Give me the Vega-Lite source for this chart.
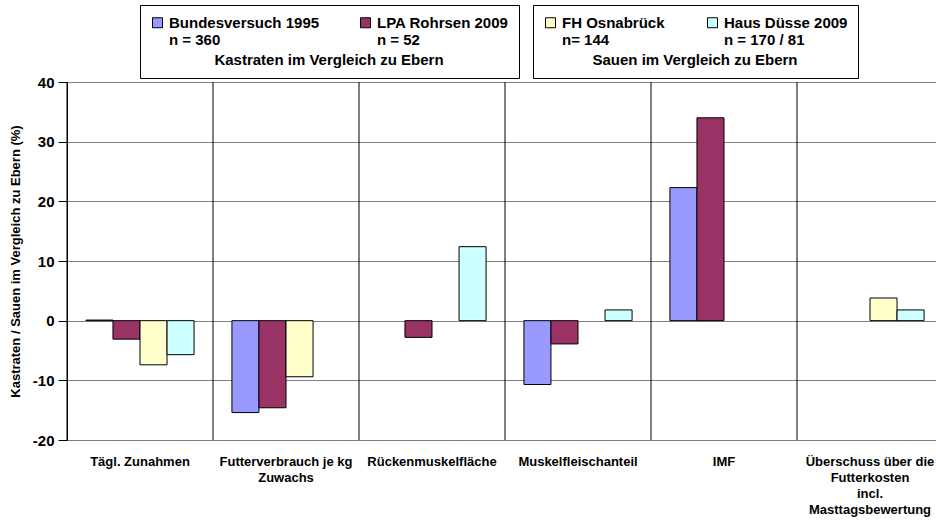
{
  "$schema": "https://vega.github.io/schema/vega-lite/v6.json",
  "width": 869,
  "height": 358,
  "autosize": "none",
  "padding": {"left": 67, "top": 82, "right": 0, "bottom": 83},
  "background": "white",
  "config": {
    "font": "Liberation Sans",
    "view": {"stroke": null},
    "axis": {"labelFont": "Liberation Sans", "titleFont": "Liberation Sans", "labelColor": "black", "titleColor": "black"},
    "legend": {"labelFont": "Liberation Sans", "titleFont": "Liberation Sans"}
  },
  "datasets": {
    "bars": [
      {"kategorie": "Tägl. Zunahmen", "serie": "Bundesversuch 1995", "gruppe": "K", "wert": 0.1},
      {"kategorie": "Tägl. Zunahmen", "serie": "LPA Rohrsen 2009", "gruppe": "K", "wert": -3.1},
      {"kategorie": "Tägl. Zunahmen", "serie": "FH Osnabrück", "gruppe": "S", "wert": -7.4},
      {"kategorie": "Tägl. Zunahmen", "serie": "Haus Düsse 2009", "gruppe": "S", "wert": -5.7},
      {"kategorie": "Futterverbrauch je kg Zuwachs", "serie": "Bundesversuch 1995", "gruppe": "K", "wert": -15.4},
      {"kategorie": "Futterverbrauch je kg Zuwachs", "serie": "LPA Rohrsen 2009", "gruppe": "K", "wert": -14.6},
      {"kategorie": "Futterverbrauch je kg Zuwachs", "serie": "FH Osnabrück", "gruppe": "S", "wert": -9.4},
      {"kategorie": "Rückenmuskelfläche", "serie": "LPA Rohrsen 2009", "gruppe": "K", "wert": -2.8},
      {"kategorie": "Rückenmuskelfläche", "serie": "Haus Düsse 2009", "gruppe": "S", "wert": 12.4},
      {"kategorie": "Muskelfleischanteil", "serie": "Bundesversuch 1995", "gruppe": "K", "wert": -10.7},
      {"kategorie": "Muskelfleischanteil", "serie": "LPA Rohrsen 2009", "gruppe": "K", "wert": -3.9},
      {"kategorie": "Muskelfleischanteil", "serie": "Haus Düsse 2009", "gruppe": "S", "wert": 1.8},
      {"kategorie": "IMF", "serie": "Bundesversuch 1995", "gruppe": "K", "wert": 22.3},
      {"kategorie": "IMF", "serie": "LPA Rohrsen 2009", "gruppe": "K", "wert": 34.0},
      {"kategorie": "Überschuss über die Futterkosten incl. Masttagsbewertung", "serie": "FH Osnabrück", "gruppe": "S", "wert": 3.8},
      {"kategorie": "Überschuss über die Futterkosten incl. Masttagsbewertung", "serie": "Haus Düsse 2009", "gruppe": "S", "wert": 1.8}
    ],
    "kats": [
      {"kategorie": "Tägl. Zunahmen"},
      {"kategorie": "Futterverbrauch je kg Zuwachs"},
      {"kategorie": "Rückenmuskelfläche"},
      {"kategorie": "Muskelfleischanteil"},
      {"kategorie": "IMF"},
      {"kategorie": "Überschuss über die Futterkosten incl. Masttagsbewertung"}
    ]
  },
  "encoding": {
    "x": {
      "field": "kategorie",
      "type": "nominal",
      "scale": {
        "domain": ["Tägl. Zunahmen", "Futterverbrauch je kg Zuwachs", "Rückenmuskelfläche", "Muskelfleischanteil", "IMF", "Überschuss über die Futterkosten incl. Masttagsbewertung"],
        "range": [0, 876],
        "paddingInner": 0,
        "paddingOuter": 0
      },
      "axis": {
        "title": null,
        "labelAngle": 0,
        "ticks": false,
        "grid": false,
        "domainColor": "#808080",
        "labelFontSize": 13,
        "labelFontWeight": "bold",
        "labelPadding": 15,
        "labelBaseline": "top",
        "labelLineHeight": 16,
        "labelLimit": 0,
        "labelExpr": "datum.label == 'Futterverbrauch je kg Zuwachs' ? ['Futterverbrauch je kg', 'Zuwachs'] : datum.label == 'Überschuss über die Futterkosten incl. Masttagsbewertung' ? ['Überschuss über die', 'Futterkosten', 'incl.', 'Masttagsbewertung'] : datum.label"
      }
    }
  },
  "layer": [
    {
      "data": {"name": "kats"},
      "mark": {"type": "rule", "color": "black", "strokeWidth": 1},
      "encoding": {
        "x": {"field": "kategorie", "type": "nominal", "bandPosition": 0}
      }
    },
    {
      "data": {"name": "bars"},
      "transform": [{"filter": "datum.gruppe == 'K'"}],
      "mark": {"type": "bar", "stroke": "black", "strokeWidth": 1},
      "encoding": {
        "xOffset": {
          "field": "serie",
          "type": "nominal",
          "scale": {"domain": ["Bundesversuch 1995", "LPA Rohrsen 2009", "FH Osnabrück", "Haus Düsse 2009"], "paddingInner": 0, "paddingOuter": 0.7}
        },
        "y": {
          "field": "wert",
          "type": "quantitative",
          "scale": {"domain": [-20, 40], "nice": false},
          "axis": {
            "title": "Kastraten / Sauen im Vergleich zu Ebern (%)",
            "titleFontSize": 13,
            "titleFontWeight": "bold",
            "titlePadding": 10,
            "values": [-20, -10, 0, 10, 20, 30, 40],
            "labelExpr": "'' + datum.value",
            "labelFontSize": 15,
            "labelFontWeight": "bold",
            "labelPadding": 4,
            "tickSize": 9,
            "tickColor": "black",
            "domainColor": "black",
            "grid": true,
            "gridColor": "#808080",
            "gridOpacity": 1
          }
        },
        "fill": {
          "field": "serie",
          "type": "nominal",
          "scale": {"domain": ["Bundesversuch 1995", "LPA Rohrsen 2009"], "range": ["#9999FF", "#993366"]},
          "legend": {
            "orient": "none",
            "legendX": 73,
            "legendY": -77,
            "direction": "horizontal",
            "columns": 2,
            "columnPadding": 38,
            "padding": 10,
            "strokeColor": "black",
            "title": "Kastraten im Vergleich zu Ebern",
            "titleOrient": "bottom",
            "titleAnchor": "middle",
            "titleFontSize": 15,
            "titleFontWeight": "bold",
            "titleColor": "black",
            "titlePadding": 5,
            "titleLimit": 0,
            "symbolType": "square",
            "symbolSize": 100,
            "symbolStrokeColor": "black",
            "symbolStrokeWidth": 1,
            "labelFontSize": 15,
            "labelFontWeight": "bold",
            "labelColor": "black",
            "labelOffset": 4,
            "labelLineHeight": 21,
            "labelLimit": 0,
            "labelExpr": "datum.label == 'Bundesversuch 1995' ? ['Bundesversuch 1995', 'n = 360'] : ['LPA Rohrsen 2009', 'n = 52']"
          }
        }
      }
    },
    {
      "data": {"name": "bars"},
      "transform": [{"filter": "datum.gruppe == 'S'"}],
      "mark": {"type": "bar", "stroke": "black", "strokeWidth": 1},
      "encoding": {
        "xOffset": {"field": "serie", "type": "nominal"},
        "y": {"field": "wert", "type": "quantitative"},
        "fill": {
          "field": "serie",
          "type": "nominal",
          "scale": {"domain": ["FH Osnabrück", "Haus Düsse 2009"], "range": ["#FFFFCC", "#CCFFFF"]},
          "legend": {
            "orient": "none",
            "legendX": 466,
            "legendY": -77,
            "direction": "horizontal",
            "columns": 2,
            "columnPadding": 40,
            "padding": 10,
            "strokeColor": "black",
            "title": "Sauen im Vergleich zu Ebern",
            "titleOrient": "bottom",
            "titleAnchor": "middle",
            "titleFontSize": 15,
            "titleFontWeight": "bold",
            "titleColor": "black",
            "titlePadding": 5,
            "titleLimit": 0,
            "symbolType": "square",
            "symbolSize": 100,
            "symbolStrokeColor": "black",
            "symbolStrokeWidth": 1,
            "labelFontSize": 15,
            "labelFontWeight": "bold",
            "labelColor": "black",
            "labelOffset": 4,
            "labelLineHeight": 21,
            "labelLimit": 0,
            "labelExpr": "datum.label == 'FH Osnabrück' ? ['FH Osnabrück', 'n= 144'] : ['Haus Düsse 2009', 'n = 170 / 81']"
          }
        }
      }
    }
  ],
  "resolve": {"scale": {"fill": "independent"}, "legend": {"fill": "independent"}}
}
